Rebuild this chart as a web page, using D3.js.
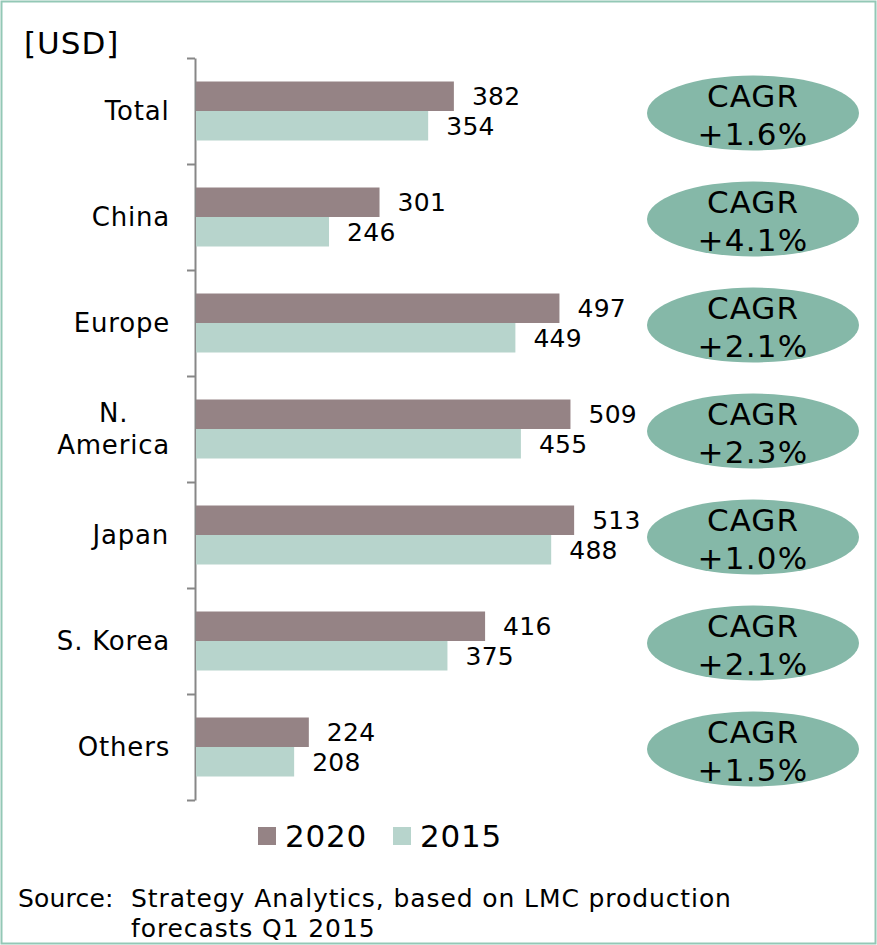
<!DOCTYPE html>
<html>
<head>
<meta charset="utf-8">
<script src="https://cdn.jsdelivr.net/npm/d3@7"></script>
<style>
  body { margin: 0; background: #fff; }
  svg text { font-family: "DejaVu Sans", Verdana, sans-serif; fill: #000; }
</style>
</head>
<body>
<div id="viz"></div>
<script>
width = 877;
height = 945;

categories = ["Total", "China", "Europe", "N.\nAmerica", "Japan", "S. Korea", "Others"];
series = ["2020", "2015"];
values2020 = [382, 301, 497, 509, 513, 416, 224];
values2015 = [354, 246, 449, 455, 488, 375, 208];
cagr = ["+1.6%", "+4.1%", "+2.1%", "+2.3%", "+1.0%", "+2.1%", "+1.5%"];
colors = ["#958385", "#b7d4cc"];

svg = d3.select("#viz").append("svg")
	.attr("width", width)
	.attr("height", height);

// frame
svg.append("rect")
	.attr("x", 1.5).attr("y", 1.5)
	.attr("width", width - 3).attr("height", 942)
	.attr("fill", "none")
	.attr("stroke", "#93c8b6")
	.attr("stroke-width", 2);

var x = d3.scaleLinear()
	.domain([100, 600])
	.range([195, 654]);

var y = d3.scaleBand()
	.domain(categories)
	.range([58, 800]);

var yInner = d3.scaleBand()
	.domain(series)
	.range([23.5, y.bandwidth() - 23.5]);

// axis with ticks between categories
var yTicks = d3.scaleLinear()
	.domain([0, categories.length])
	.range([58, 800]);

var axis = svg.append("g")
	.attr("transform", "translate(195,0)")
	.call(d3.axisLeft(yTicks).ticks(categories.length).tickSize(8).tickSizeOuter(0).tickFormat(""));
axis.selectAll("path, line")
	.attr("stroke", "#878787")
	.attr("stroke-width", 2);

var rows = categories.map(function(c, i) {
	return {cat: c, vals: [values2020[i], values2015[i]], cagr: cagr[i]};
});

var row = svg.selectAll("g.row").data(rows).enter().append("g")
	.attr("class", "row")
	.attr("transform", function(d) { return "translate(0," + y(d.cat) + ")"; });

row.selectAll("rect").data(function(d) { return d.vals; }).enter().append("rect")
	.attr("x", x(100) + 1)
	.attr("y", function(d, i) { return yInner(series[i]); })
	.attr("width", function(d) { return x(d) - x(100) - 1; })
	.attr("height", yInner.bandwidth())
	.attr("fill", function(d, i) { return colors[i]; });

row.selectAll("text.val").data(function(d) { return d.vals; }).enter().append("text")
	.attr("class", "val")
	.attr("x", function(d) { return x(d) + 18; })
	.attr("y", function(d, i) { return yInner(series[i]) + yInner.bandwidth() / 2; })
	.attr("dy", "0.36em")
	.style("font-size", "25px")
	.style("letter-spacing", "0.3px")
	.text(function(d) { return d; });

// category labels: block right-aligned at 170, lines centred within the block
row.append("text")
	.attr("text-anchor", "middle")
	.style("font-size", "26px")
	.style("letter-spacing", "0.8px")
	.each(function(d) {
		var lines = d.cat.split("\n");
		var t = d3.select(this);
		lines.forEach(function(l, k) {
			t.append("tspan")
				.attr("x", 0)
				.attr("y", y.bandwidth() / 2 + 9 + (k - (lines.length - 1) / 2) * 32)
				.text(l);
		});
		var w = this.getBBox().width;
		t.selectAll("tspan").attr("x", 170 - w / 2);
	});

// CAGR ellipses
row.append("ellipse")
	.attr("cx", 753)
	.attr("cy", y.bandwidth() / 2 + 2)
	.attr("rx", 106)
	.attr("ry", 37.5)
	.attr("fill", "#85b8a8");

row.append("text")
	.attr("x", 753)
	.attr("y", y.bandwidth() / 2 - 4)
	.attr("text-anchor", "middle")
	.style("font-size", "31px")
	.style("letter-spacing", "1px")
	.text("CAGR");

row.append("text")
	.attr("x", 753)
	.attr("y", y.bandwidth() / 2 + 34)
	.attr("text-anchor", "middle")
	.style("font-size", "31px")
	.style("letter-spacing", "1.3px")
	.text(function(d) { return d.cagr; });

// unit
svg.append("text")
	.attr("x", 24)
	.attr("y", 54)
	.style("font-size", "31px")
	.style("letter-spacing", "1px")
	.text("[USD]");

// legend
var legendX = [258, 393];
var legend = svg.selectAll("g.legend").data(series).enter().append("g")
	.attr("class", "legend")
	.attr("transform", function(d, i) { return "translate(" + legendX[i] + ",827)"; });
legend.append("rect")
	.attr("width", 18).attr("height", 18)
	.attr("fill", function(d, i) { return colors[i]; });
legend.append("text")
	.attr("x", 27)
	.attr("y", 20)
	.style("font-size", "31px")
	.style("letter-spacing", "0.8px")
	.text(function(d) { return d; });

// source
svg.append("text")
	.attr("x", 18).attr("y", 907)
	.style("font-size", "25px")
	.style("letter-spacing", "0.2px")
	.text("Source:");
svg.append("text")
	.attr("x", 131).attr("y", 907)
	.style("font-size", "25px")
	.style("letter-spacing", "0.9px")
	.text("Strategy Analytics, based on LMC production");
svg.append("text")
	.attr("x", 131).attr("y", 937)
	.style("font-size", "25px")
	.style("letter-spacing", "0.9px")
	.text("forecasts Q1 2015");
</script>
</body>
</html>
